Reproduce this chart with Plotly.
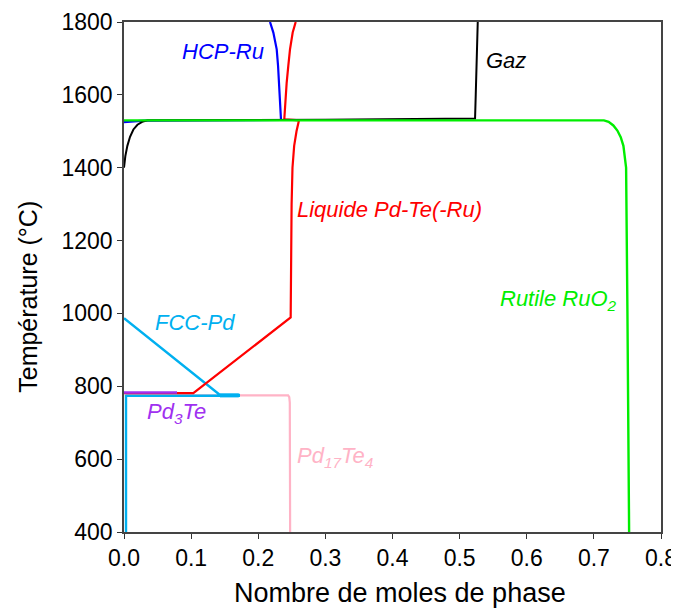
import plotly.graph_objects as go

# Phase amounts (x, moles) vs temperature (y, °C)
gaz_x = [0.0, 0.002, 0.005, 0.009, 0.014, 0.02, 0.027, 0.035, 0.30, 0.523, 0.524, 0.526, 0.527]
gaz_t = [1400, 1432, 1460, 1485, 1505, 1518, 1526, 1530, 1532, 1535, 1600, 1700, 1800]

hcp_x = [0.0, 0.03, 0.2339, 0.2325, 0.2314, 0.2295, 0.2275, 0.2225, 0.2175]
hcp_t = [1525, 1529, 1531, 1590, 1632, 1680, 1725, 1771, 1800]

liq_x = [0.0, 0.1033, 0.2483, 0.2485, 0.249, 0.2497, 0.251, 0.2535, 0.257, 0.2607, 0.2388, 0.2405, 0.2423, 0.2448, 0.2473, 0.2513, 0.2558]
liq_t = [781, 781, 989, 1100, 1200, 1300, 1400, 1460, 1500, 1530, 1533, 1585, 1632, 1680, 1725, 1771, 1800]

rut_x = [0.0, 0.715, 0.722, 0.729, 0.735, 0.740, 0.744, 0.7465, 0.748, 0.750, 0.7515, 0.7525]
rut_t = [1530, 1530, 1526, 1516, 1502, 1484, 1460, 1430, 1400, 1000, 700, 400]

fcc_x = [0.0, 0.143, 0.171, 0.171, 0.003, 0.003]
fcc_t = [987, 776, 776, 774, 774, 400]

pd3_x = [0.0, 0.079]
pd3_t = [783, 783]

pd17_x = [0.003, 0.2445, 0.2462, 0.247, 0.2475]
pd17_t = [775, 775, 770, 755, 400]

x_ticks = [0.0, 0.1, 0.2, 0.3, 0.4, 0.5, 0.6, 0.7, 0.8]
y_ticks = [400, 600, 800, 1000, 1200, 1400, 1600, 1800]

FONT = "Liberation Sans, Arial, sans-serif"

fig = go.Figure()

def add(x, y, color, width=2.2):
    fig.add_trace(go.Scatter(x=x, y=y, mode="lines",
                             line=dict(color=color, width=width),
                             showlegend=False, hoverinfo="skip"))

add(pd17_x, pd17_t, "#ffb3c6")
add(fcc_x, fcc_t, "#00b0f0", 2.4)
fig.add_trace(go.Scatter(x=[0.143, 0.171], y=[775, 775], mode="lines",
                         line=dict(color="#00b0f0", width=4), showlegend=False, hoverinfo="skip"))
add(liq_x, liq_t, "#ff0000")
add(pd3_x, pd3_t, "#a030f0", 2.6)
add(hcp_x, hcp_t, "#0000ff")
add(gaz_x, gaz_t, "#000000", 2)
add(rut_x, rut_t, "#00ee00", 2.4)

def label(x, y, text, color, anchor="left"):
    fig.add_annotation(x=x, y=y, text=text, showarrow=False, xanchor=anchor, yanchor="middle",
                       font=dict(family=FONT, size=22, color=color), xref="x", yref="y")

label(0.212, 1718, "<i>HCP-Ru</i>", "#0000ff", "right")
label(0.536, 1693, "<i>Gaz</i>", "#000000")
label(0.255, 1284, "<i>Liquide Pd-Te(-Ru)</i>", "#ff0000")
label(0.557, 1037, "<i>Rutile RuO<sub>2</sub></i>", "#00ee00")
label(0.043, 976, "<i>FCC-Pd</i>", "#00b0f0")
label(0.031, 727, "<i>Pd<sub>3</sub>Te</i>", "#a030f0")
label(0.255, 606, "<i>Pd<sub>17</sub>Te<sub>4</sub></i>", "#ffb3c6")

# axis titles
fig.add_annotation(x=0.514, y=-0.1196, xref="paper", yref="paper", text="Nombre de moles de phase",
                   showarrow=False, xanchor="center", yanchor="middle",
                   font=dict(family=FONT, size=27, color="#000"))
fig.add_annotation(x=-0.179, y=0.461, xref="paper", yref="paper", text="Température (°C)",
                   showarrow=False, xanchor="center", yanchor="middle", textangle=-90,
                   font=dict(family=FONT, size=25, color="#000"))

fig.update_layout(
    width=679, height=608,
    margin=dict(l=116, r=26, t=14, b=84, autoexpand=False),
    paper_bgcolor="white", plot_bgcolor="white",
    font=dict(family=FONT, color="#000000"),
    xaxis=dict(range=[0, 0.8], tickvals=x_ticks, tickformat=".1f", ticks="outside", ticklen=5,
               tickcolor="#333", linecolor="#444", linewidth=1.5, mirror=True, showgrid=False,
               zeroline=False, tickfont=dict(size=23, family=FONT), automargin=False),
    yaxis=dict(range=[400, 1800], tickvals=y_ticks, ticks="outside", ticklen=5,
               tickcolor="#333", linecolor="#444", linewidth=1.5, mirror=True, showgrid=False,
               zeroline=False, tickfont=dict(size=23, family=FONT), automargin=False),
)

fig.write_html("out.html")
